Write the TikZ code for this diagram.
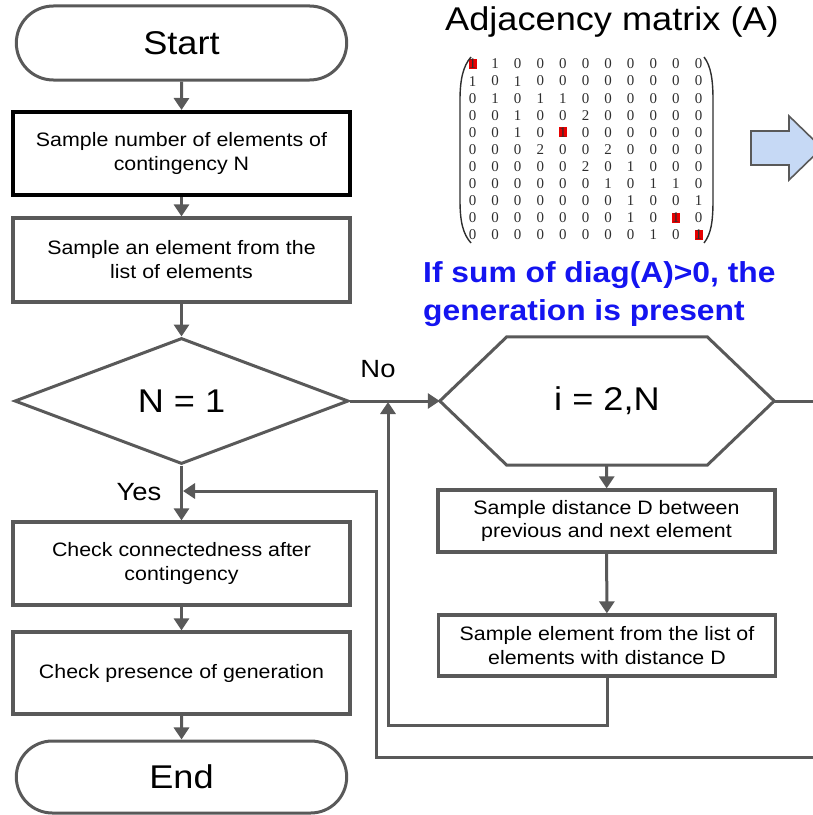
\documentclass[tikz,border=0pt]{standalone}
\usepackage{fontspec}
\setmainfont{Liberation Sans}[FakeStretch=1.1]
\newfontfamily\matfont{Liberation Serif}
\usetikzlibrary{shapes.geometric,shapes.misc,arrows.meta,calc}

\definecolor{linegray}{HTML}{595959}
\definecolor{blockblue}{HTML}{C6D9F5}
\definecolor{textblue}{HTML}{1414F0}
\definecolor{hlred}{HTML}{E80000}
\definecolor{digitgray}{HTML}{2E2E2E}

\begin{document}
\begin{tikzpicture}[x=1bp,y=-1bp,
  every node/.style={font=\fontsize{19.5}{24}\selectfont},
  bigtext/.style={font=\fontsize{33}{38}\selectfont},
  terminal/.style={rounded rectangle, draw=linegray, line width=3bp, fill=white,
    minimum width=337bp, minimum height=74bp, bigtext},
  procbox/.style={rectangle, draw=linegray, line width=3.2bp, fill=white,
    align=center, minimum width=337bp, inner sep=0pt},
  decision/.style={diamond, draw=linegray, line width=3bp, fill=white,
    minimum width=334bp, minimum height=126bp, aspect=2.65, inner sep=0pt, bigtext},
  branchlabel/.style={font=\fontsize{25}{30}\selectfont, inner sep=0pt},
  conn/.style={draw=linegray, line width=3bp, -{Triangle[length=12bp,width=15bp]}},
  plainline/.style={draw=linegray, line width=3bp},
  matentry/.style={font=\matfont\fontsize{15}{15}\selectfont, text=digitgray, inner sep=0pt},
  paren/.style={draw=digitgray, line width=1.4bp},
  note/.style={font=\bfseries\fontsize{29}{38}\selectfont, text=textblue, align=left, inner sep=0pt}
]
\useasboundingbox (0,0) rectangle (813,815);

% ---------------- main flow ----------------
\node[terminal] (start) at (181.5,43) {Start};
\node[procbox, draw=black, line width=4bp, minimum height=83bp] (s1) at (181.5,153.5)
  {Sample number of elements of\\contingency N};
\node[procbox, minimum height=84bp] (s2) at (181.5,260)
  {Sample an element from the\\list of elements};
\node[decision] (dec) at (181.5,401) {N = 1};
\node[procbox, minimum height=83bp] (c1) at (181.5,563.5)
  {Check connectedness after\\contingency};
\node[procbox, minimum height=82bp] (c2) at (181.5,673)
  {Check presence of generation};
\node[terminal, minimum height=72bp] (end) at (181.5,777) {End};

% ---------------- loop over the remaining elements ----------------
\node[minimum width=334bp, minimum height=128bp, inner sep=0pt, bigtext] (loop) at (607,401) {i = 2,N};
\draw[plainline, fill=white, line join=miter]
  (loop.west) -- ($(loop.north west)+(67,0)$) -- ($(loop.north east)+(-67,0)$)
  -- (loop.east) -- ($(loop.south east)+(-67,0)$) -- ($(loop.south west)+(67,0)$) -- cycle;
\node[bigtext] at (loop) {i = 2,N};

\node[procbox, minimum height=62bp] (d1) at (606.5,521)
  {Sample distance D between\\previous and next element};
\node[procbox, minimum height=61bp] (d2) at (607,645.5)
  {Sample element from the list of\\elements with distance D};

% branch labels
\node[branchlabel, anchor=base] (nolabel) at (378,377) {No};
\node[branchlabel, anchor=base] (yeslabel) at (139,500) {Yes};

% ---------------- connectors ----------------
\draw[conn] (start) -- (s1);
\draw[conn] (s1) -- (s2);
\draw[conn] (s2) -- (dec);
\draw[conn] (dec) -- (c1);
\draw[conn] (c1) -- (c2);
\draw[conn] (c2) -- (end);
\draw[conn] (dec.east) -- (loop.west);
\draw[conn] (loop) -- (d1);
\draw[conn] (d1) -- (d2);

\coordinate (merge) at (388,402);
\coordinate (loopcorner) at (388,725);
\draw[conn, line join=miter] (d2.south) |- (loopcorner) -- (merge);

\coordinate (exitR) at (820,401);
\draw[plainline] (loop.east) -- (exitR);

\coordinate (exitB) at (820,757);
\coordinate (retcorner) at (376,757);
\coordinate (yesjoin) at (183,491);
\draw[conn, line join=miter] (exitB) -- (retcorner) |- (yesjoin);

% ---------------- adjacency matrix ----------------
\node[font=\fontsize{33}{38}\selectfont, anchor=base] (title) at (612,31) {Adjacency matrix (A)};

\foreach \k in {1,5,10,11}
  \fill[hlred] ({472.5+22.6*(\k-1)-4},{64+17.1*(\k-1)-5}) rectangle ++(8,10);

\foreach \rowvals [count=\r] in {
  {1,1,0,0,0,0,0,0,0,0,0},
  {1,0,1,0,0,0,0,0,0,0,0},
  {0,1,0,1,1,0,0,0,0,0,0},
  {0,0,1,0,0,2,0,0,0,0,0},
  {0,0,1,0,1,0,0,0,0,0,0},
  {0,0,0,2,0,0,2,0,0,0,0},
  {0,0,0,0,0,2,0,1,0,0,0},
  {0,0,0,0,0,0,1,0,1,1,0},
  {0,0,0,0,0,0,0,1,0,0,1},
  {0,0,0,0,0,0,0,1,0,1,0},
  {0,0,0,0,0,0,0,0,1,0,1}}
{
  \foreach \v [count=\c] in \rowvals
    \node[matentry] (m-\r-\c) at ({472.5+22.6*(\c-1)},{64+17.1*(\r-1)}) {\v};
}

\draw[paren] (471,57) .. controls (463,66) and (460,80) .. (460,100) -- (460,200)
  .. controls (460,222) and (463,234) .. (471,243);
\draw[paren] (704,57) .. controls (711,66) and (713,80) .. (713,100) -- (713,200)
  .. controls (713,222) and (711,234) .. (704,243);

\node[note, anchor=west] (rule) at (423,294) {If sum of diag(A)>0, the\\generation is present};

% block arrow pointing to the right
\draw[draw=linegray, line width=1.6bp, fill=blockblue, line join=miter]
  (751,131) -- (789,131) -- (789,116) -- (822,148) -- (789,180) -- (789,165)
  -- (751,165) -- cycle;

\end{tikzpicture}
\end{document}
